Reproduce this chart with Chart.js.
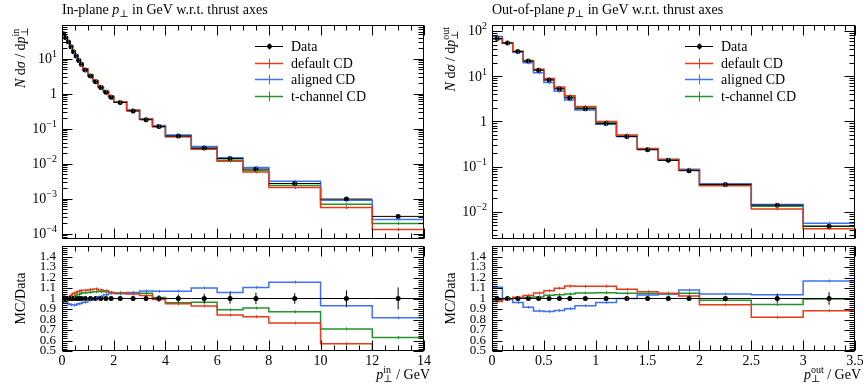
<!DOCTYPE html>
<html>
<head>
<meta charset="utf-8">
<script src="https://cdn.jsdelivr.net/npm/chart.js@4.4.1/dist/chart.umd.min.js"></script>
<style>
  html, body { margin: 0; padding: 0; background: #fff; overflow: hidden; }
  body { position: relative; width: 863px; height: 387px; }
  canvas { position: absolute; }
</style>
</head>
<body>
<canvas id="inMain" width="432" height="243" style="left:0px;top:0px"></canvas>
<canvas id="inRatio" width="432" height="145" style="left:0px;top:242px"></canvas>
<canvas id="outMain" width="440" height="243" style="left:431px;top:0px"></canvas>
<canvas id="outRatio" width="440" height="145" style="left:431px;top:242px"></canvas>
<script>
// In-plane pT w.r.t. thrust axes (bin edges in GeV)
const inEdges = [0, 0.1, 0.2, 0.3, 0.4, 0.5, 0.6, 0.7, 0.8, 1.0, 1.2, 1.4, 1.6, 1.8, 2.0, 2.5, 3.0, 3.5, 4.0, 5.0, 6.0, 7.0, 8.0, 10.0, 12.0, 14.0];
const inData = [52, 40, 30, 22, 16, 12, 9.0, 7.0, 4.8, 3.2, 2.2, 1.5, 1.1, 0.80, 0.56, 0.32, 0.18, 0.115, 0.062, 0.028, 0.014, 0.0070, 0.0027, 0.00097, 0.00031];
const inErr = [0.01, 0.01, 0.01, 0.01, 0.01, 0.01, 0.01, 0.01, 0.01, 0.01, 0.01, 0.012, 0.012, 0.015, 0.02, 0.022, 0.026, 0.032, 0.038, 0.045, 0.05, 0.055, 0.05, 0.077, 0.105];
const inDefault = [50.4, 39.6, 30.3, 22.7, 16.8, 12.7, 9.63, 7.53, 5.18, 3.47, 2.40, 1.62, 1.18, 0.848, 0.591, 0.334, 0.185, 0.114, 0.0589, 0.0260, 0.0118, 0.00578, 0.00207, 0.000553, 0.000130];
const inAligned = [53.6, 38.8, 28.5, 20.7, 15.0, 11.3, 8.55, 6.69, 4.63, 3.15, 2.20, 1.53, 1.14, 0.840, 0.585, 0.338, 0.193, 0.123, 0.0663, 0.0308, 0.0148, 0.00774, 0.00312, 0.000902, 0.000253];
const inTchannel = [51.0, 39.6, 30.0, 22.2, 16.3, 12.4, 9.36, 7.35, 5.06, 3.39, 2.34, 1.60, 1.17, 0.844, 0.588, 0.336, 0.189, 0.116, 0.0595, 0.0270, 0.0125, 0.00636, 0.00236, 0.000689, 0.000195];

// Out-of-plane pT w.r.t. thrust axes
const outEdges = [0, 0.1, 0.2, 0.3, 0.4, 0.5, 0.6, 0.7, 0.8, 1.0, 1.2, 1.4, 1.6, 1.8, 2.0, 2.5, 3.0, 3.5];
const outData = [68, 54, 35, 21.5, 13.5, 8.2, 5.2, 3.3, 1.9, 0.89, 0.46, 0.235, 0.137, 0.081, 0.040, 0.014, 0.0048];
const outErr = [0.01, 0.01, 0.01, 0.01, 0.01, 0.01, 0.01, 0.01, 0.01, 0.01, 0.012, 0.014, 0.016, 0.02, 0.022, 0.04, 0.06];
const outDefault = [66.0, 53.7, 35.4, 22.1, 14.2, 8.81, 5.71, 3.69, 2.12, 0.994, 0.500, 0.250, 0.144, 0.0830, 0.0376, 0.0115, 0.00424];
const outAligned = [75.3, 53.5, 33.7, 19.7, 11.9, 7.19, 4.61, 2.98, 1.77, 0.857, 0.460, 0.243, 0.143, 0.0875, 0.0417, 0.0145, 0.0056];
const outTchannel = [67.0, 54.0, 35.2, 21.7, 13.7, 8.45, 5.39, 3.44, 2.00, 0.939, 0.483, 0.246, 0.143, 0.0850, 0.0393, 0.0132, 0.00478];

const mcNames = ['default CD', 'aligned CD', 't-channel CD'];

// tick labels
const inXTicks = [0, 2, 4, 6, 8, 10, 12, 14];
const inXLabels = ['0', '2', '4', '6', '8', '10', '12', '14'];
const outXTicks = [0, 0.5, 1, 1.5, 2, 2.5, 3, 3.5];
const outXLabels = ['0', '0.5', '1', '1.5', '2', '2.5', '3', '3.5'];
const ratioTicks = [0.5, 0.6, 0.7, 0.8, 0.9, 1.0, 1.1, 1.2, 1.3, 1.4];
const ratioLabels = ['0.5', '0.6', '0.7', '0.8', '0.9', '1', '1.1', '1.2', '1.3', '1.4'];
const inLogExp = [-4, -3, -2, -1, 0, 1];
const outLogExp = [-2, -1, 0, 1, 2];

const FONT = '"Liberation Serif", "DejaVu Serif", serif';
const RED = '#e8391b', BLUE = '#3f70f5', GREEN = '#21952c';
const mcColors = [RED, BLUE, GREEN];

function fontOf(p) { return (p.it ? 'italic ' : '') + (p.s || 14) + 'px ' + FONT; }

// draw a run of text pieces (italic, sub/superscripts); "over" stacks on the previous piece
function rich(ctx, parts, x, y, align) {
    const items = [];
    let cur = 0, prevStart = 0;
    for (const p of parts) {
        ctx.font = fontOf(p);
        const w = ctx.measureText(p.t).width;
        const start = p.over ? prevStart : cur;
        items.push({ p, start });
        cur = Math.max(cur, start + w);
        prevStart = start;
    }
    const off = align === 'right' ? -cur : align === 'center' ? -cur / 2 : 0;
    ctx.textAlign = 'left';
    ctx.textBaseline = 'alphabetic';
    ctx.fillStyle = '#000';
    for (const it of items) {
        ctx.font = fontOf(it.p);
        ctx.fillText(it.p.t, x + off + it.start, y + (it.p.dy || 0));
    }
}

function line(ctx, x1, y1, x2, y2) {
    ctx.beginPath();
    ctx.moveTo(x1, y1);
    ctx.lineTo(x2, y2);
    ctx.stroke();
}

function centres(edges) { return edges.slice(0, -1).map((e, i) => (e + edges[i + 1]) / 2); }

function histPoints(edges, vals) {
    const pts = vals.map((v, i) => ({ x: edges[i], y: v }));
    pts.push({ x: edges[edges.length - 1], y: vals[vals.length - 1] });
    return pts;
}

function minorTicks(lo, hi, step, majorStep) {
    const out = [];
    const n = Math.round((hi - lo) / step);
    for (let i = 1; i < n; i++) {
        const v = lo + i * step;
        const r = v / majorStep;
        if (Math.abs(r - Math.round(r)) > 1e-6) out.push(v);
    }
    return out;
}

function logMinor(min, max) {
    const out = [];
    for (let d = Math.floor(Math.log10(min)); d <= Math.ceil(Math.log10(max)); d++) {
        for (let k = 2; k <= 9; k++) {
            const v = k * Math.pow(10, d);
            if (v > min && v < max) out.push(v);
        }
    }
    return out;
}

const rivet = {
    id: 'rivet',
    afterDatasetsDraw(chart, args, o) {
        const ctx = chart.ctx, a = chart.chartArea;
        const xs = chart.scales.x, ys = chart.scales.y;
        ctx.save();
        ctx.beginPath();
        ctx.rect(a.left, a.top, a.right - a.left, a.bottom - a.top);
        ctx.clip();
        // small MC error ticks at bin centres
        chart.data.datasets.forEach(ds => {
            if (!ds.mc) return;
            ctx.strokeStyle = ds.borderColor;
            ctx.lineWidth = 1;
            for (let i = 0; i < ds.data.length - 1; i++) {
                const x = Math.round(xs.getPixelForValue((ds.data[i].x + ds.data[i + 1].x) / 2)) + 0.5;
                const y = ys.getPixelForValue(ds.data[i].y);
                line(ctx, x, y - 1.5, x, y + 1.5);
            }
        });
        // data: bin width and error bar
        ctx.strokeStyle = '#000';
        ctx.lineWidth = 1;
        o.bars.forEach(b => {
            const y = ys.getPixelForValue(b.y);
            const x = xs.getPixelForValue(b.x);
            line(ctx, xs.getPixelForValue(b.lo), y, xs.getPixelForValue(b.hi), y);
            line(ctx, x, ys.getPixelForValue(b.y - b.e), x, ys.getPixelForValue(b.y + b.e));
        });
        ctx.restore();
    },
    afterDraw(chart, args, o) {
        const ctx = chart.ctx, a = chart.chartArea;
        const xs = chart.scales.x, ys = chart.scales.y;
        const L = Math.round(a.left) + 0.5, R = Math.round(a.right) - 0.5;
        const T = Math.round(a.top) + 0.5, B = Math.round(a.bottom) - 0.5;
        ctx.save();
        ctx.strokeStyle = '#000';
        ctx.lineWidth = 1;
        ctx.strokeRect(L, T, R - L, B - T);
        const xt = (arr, len) => arr.forEach(v => {
            const x = Math.round(xs.getPixelForValue(v)) + 0.5;
            line(ctx, x, T, x, T + len);
            line(ctx, x, B, x, B - len);
        });
        const yt = (arr, len) => arr.forEach(v => {
            const y = Math.round(ys.getPixelForValue(v)) + 0.5;
            line(ctx, L, y, L + len, y);
            line(ctx, R, y, R - len, y);
        });
        xt(o.xMajor, 10); xt(o.xMinor, 5);
        yt(o.yMajor, 10); yt(o.yMinor, 5);

        // log axis labels
        if (o.logExp) {
            o.logExp.forEach(e => {
                const y = ys.getPixelForValue(Math.pow(10, e));
                const parts = e === 0 ? [{ t: '1' }] : [{ t: '10' }, { t: (e < 0 ? '\u2212' : '') + Math.abs(e), s: 10, dy: -6 }];
                rich(ctx, parts, a.left - 5, y + 4.5, 'right');
            });
        }
        if (o.title) rich(ctx, o.title, a.left, a.top - 11, 'left');
        if (o.yTitle) {
            ctx.save();
            if (o.yTitleCentre) {
                ctx.translate(a.left - 37, ys.getPixelForValue(1));
                ctx.rotate(-Math.PI / 2);
                rich(ctx, o.yTitle, 0, 0, 'center');
            } else {
                ctx.translate(a.left - 37, a.top + 2);
                ctx.rotate(-Math.PI / 2);
                rich(ctx, o.yTitle, 0, 0, 'right');
            }
            ctx.restore();
        }
        if (o.xTitle) rich(ctx, o.xTitle, a.right + 6, a.bottom + 28, 'right');

        // legend
        if (o.legend) {
            chart.data.datasets.forEach((ds, i) => {
                const y = Math.round(a.top + 21 + i * 16.5) + 0.5;
                const x0 = a.left + 193, x1 = x0 + 28, xm = Math.round((x0 + x1) / 2) + 0.5;
                const isData = !ds.mc;
                ctx.strokeStyle = isData ? '#000' : ds.borderColor;
                ctx.lineWidth = isData ? 1 : 1.5;
                line(ctx, x0, y, x1, y);
                ctx.lineWidth = 1;
                line(ctx, xm, y - (isData ? 3 : 5), xm, y + (isData ? 3 : 5));
                if (isData) {
                    ctx.fillStyle = '#000';
                    ctx.beginPath();
                    ctx.arc(xm, y, 2.4, 0, Math.PI * 2);
                    ctx.fill();
                }
                rich(ctx, [{ t: ds.label }], x1 + 8, y + 4.5, 'left');
            });
        }
        ctx.restore();
    }
};

function dataDataset(c, vals) {
    return {
        label: 'Data', data: c.map((x, i) => ({ x, y: vals[i] })), showLine: false,
        pointRadius: 2.5, pointBackgroundColor: '#000', pointBorderWidth: 0
    };
}

function mcDataset(edges, vals, k) {
    return {
        label: mcNames[k], data: histPoints(edges, vals), stepped: true, mc: true,
        borderColor: mcColors[k], borderWidth: 1.5, pointRadius: 0, fill: false
    };
}

function makeMain(id, p) {
    const c = centres(p.edges);
    const datasets = [dataDataset(c, p.data)];
    p.mc.forEach((vals, k) => datasets.push(mcDataset(p.edges, vals, k)));
    return new Chart(document.getElementById(id), {
        type: 'line',
        data: { datasets },
        options: {
            responsive: false, animation: false, devicePixelRatio: 1,
            layout: { padding: { left: p.padL, right: p.padR, top: 25, bottom: 1 } },
            scales: {
                x: { type: 'linear', min: 0, max: p.xmax, display: false },
                y: { type: 'logarithmic', min: p.ymin, max: p.ymax, display: false }
            },
            plugins: {
                legend: { display: false },
                tooltip: { enabled: false },
                rivet: {
                    bars: c.map((x, i) => ({ x, lo: p.edges[i], hi: p.edges[i + 1], y: p.data[i], e: p.data[i] * p.err[i] })),
                    xMajor: p.xTicks, xMinor: minorTicks(0, p.xmax, p.xMinorStep, p.xTicks[1]),
                    yMajor: p.logExp.map(e => Math.pow(10, e)), yMinor: logMinor(p.ymin, p.ymax),
                    logExp: p.logExp, title: p.title, yTitle: p.yTitle, legend: true
                }
            }
        },
        plugins: [rivet]
    });
}

function makeRatio(id, p) {
    const c = centres(p.edges);
    const datasets = [dataDataset(c, c.map(() => 1))];
    p.mc.forEach((vals, k) => datasets.push(mcDataset(p.edges, vals.map((v, i) => v / p.data[i]), k)));
    return new Chart(document.getElementById(id), {
        type: 'line',
        data: { datasets },
        options: {
            responsive: false, animation: false, devicePixelRatio: 1,
            layout: { padding: { left: 0, right: p.padR, top: 0, bottom: 0 } },
            scales: {
                x: {
                    type: 'linear', min: 0, max: p.xmax,
                    grid: { display: false, drawTicks: false }, border: { display: false },
                    afterBuildTicks: s => { s.ticks = p.xTicks.map(v => ({ value: v })); },
                    afterFit: s => { s.height = 36; s.paddingLeft = 0; s.paddingRight = 0; },
                    ticks: { autoSkip: false, maxRotation: 0, padding: 2, color: '#000', font: { family: FONT, size: 14 },
                             callback: (v, i) => p.xLabels[i] }
                },
                y: {
                    type: 'linear', min: 0.5, max: 1.5,
                    grid: { display: false, drawTicks: false }, border: { display: false },
                    afterBuildTicks: s => { s.ticks = ratioTicks.map(v => ({ value: v })); },
                    afterFit: s => { s.width = p.padL; s.paddingTop = 0; s.paddingBottom = 0; },
                    ticks: { autoSkip: false, padding: 6, color: '#000', font: { family: FONT, size: 13, lineHeight: 1 },
                             callback: (v, i) => ratioLabels[i] }
                }
            },
            plugins: {
                legend: { display: false },
                tooltip: { enabled: false },
                rivet: {
                    bars: c.map((x, i) => ({ x, lo: p.edges[i], hi: p.edges[i + 1], y: 1, e: p.err[i] })),
                    xMajor: p.xTicks, xMinor: minorTicks(0, p.xmax, p.xMinorStep, p.xTicks[1]),
                    yMajor: ratioTicks.concat([1.5]), yMinor: minorTicks(0.5, 1.5, 0.02, 0.1),
                    yTitle: [{ t: 'MC/Data' }], yTitleCentre: true, xTitle: p.xTitle
                }
            }
        },
        plugins: [rivet]
    });
}

const pPerp = (sup) => [{ t: 'p', it: true }, { t: '\u22a5', s: 10, dy: 3 }, { t: sup, s: 10, dy: -6, over: true }];

makeMain('inMain', {
    edges: inEdges, data: inData, err: inErr, mc: [inDefault, inAligned, inTchannel],
    xmax: 14, xTicks: inXTicks, xMinorStep: 0.5, ymin: 7.4e-5, ymax: 92.5, logExp: inLogExp,
    padL: 62, padR: 8,
    title: [{ t: 'In-plane ' }, { t: 'p', it: true }, { t: '\u22a5', s: 10, dy: 3 }, { t: ' in GeV w.r.t. thrust axes' }],
    yTitle: [{ t: 'N', it: true }, { t: ' d' }, { t: '\u03c3', it: true }, { t: ' / d' }].concat(pPerp('in'))
});
makeRatio('inRatio', {
    edges: inEdges, data: inData, err: inErr, mc: [inDefault, inAligned, inTchannel],
    xmax: 14, xTicks: inXTicks, xLabels: inXLabels, xMinorStep: 0.5, padL: 62, padR: 8,
    xTitle: pPerp('in').concat([{ t: ' / GeV' }])
});
makeMain('outMain', {
    edges: outEdges, data: outData, err: outErr, mc: [outDefault, outAligned, outTchannel],
    xmax: 3.5, xTicks: outXTicks, xMinorStep: 0.1, ymin: 2.5e-3, ymax: 135, logExp: outLogExp,
    padL: 61, padR: 16,
    title: [{ t: 'Out-of-plane ' }, { t: 'p', it: true }, { t: '\u22a5', s: 10, dy: 3 }, { t: ' in GeV w.r.t. thrust axes' }],
    yTitle: [{ t: 'N', it: true }, { t: ' d' }, { t: '\u03c3', it: true }, { t: ' / d' }].concat(pPerp('out'))
});
makeRatio('outRatio', {
    edges: outEdges, data: outData, err: outErr, mc: [outDefault, outAligned, outTchannel],
    xmax: 3.5, xTicks: outXTicks, xLabels: outXLabels, xMinorStep: 0.1, padL: 61, padR: 16,
    xTitle: pPerp('out').concat([{ t: ' / GeV' }])
});
</script>
</body>
</html>
